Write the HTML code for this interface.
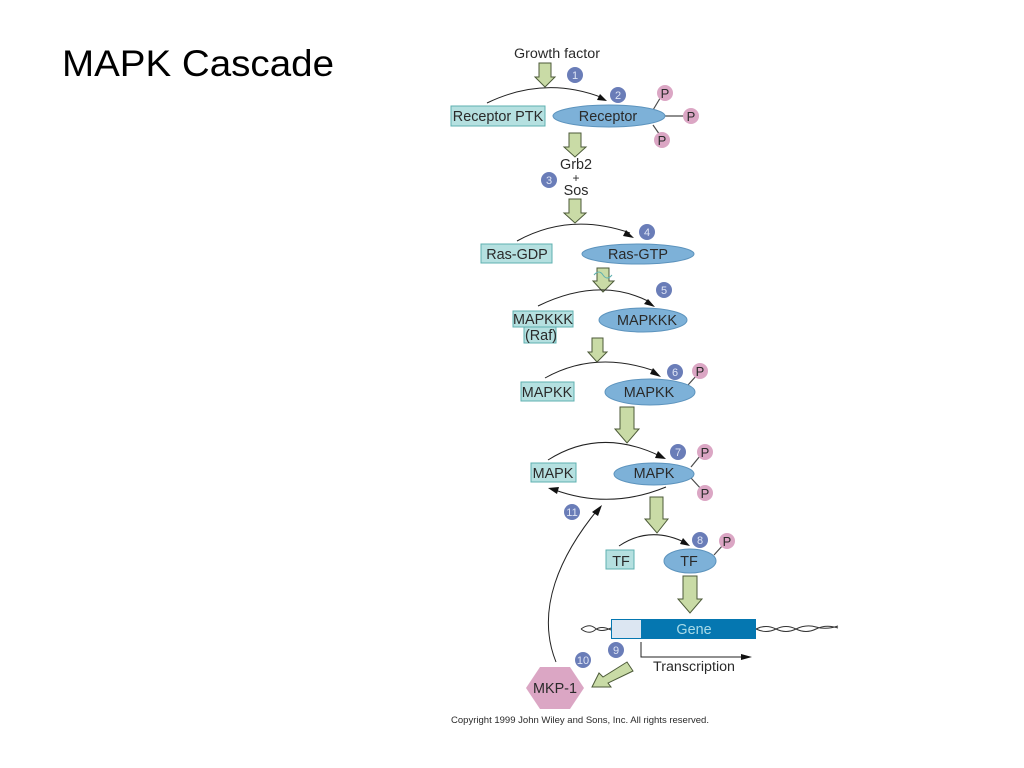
<!DOCTYPE html>
<html><head><meta charset="utf-8"><style>
html,body{margin:0;padding:0;background:#fff}
svg{display:block}
text{font-family:"Liberation Sans",sans-serif;fill:#2a2a2a;text-anchor:middle}
.t{fill:#b5e0e0;stroke:#5fb0b0;stroke-width:1}
.e{fill:#7db1d8;stroke:#5c93bd;stroke-width:1}
.a{fill:#c9dba6;stroke:#4c5a38;stroke-width:1}
.c{fill:none;stroke:#222;stroke-width:1}
.h{fill:#111}
.n{fill:#6a7db8}
.nt{fill:#dfe5f5;font-size:11px}
.p{fill:#dba6c4}
.l{stroke:#4a4a4a;stroke-width:1.2}
.s{font-size:14.4px}
.pt{font-size:13px}
#d{filter:blur(.35px)}
</style></head><body>
<svg width="1024" height="768" viewBox="0 0 1024 768" xmlns="http://www.w3.org/2000/svg">
<rect width="1024" height="768" fill="#fff"/>
<text x="62" y="76" style="text-anchor:start;fill:#000;font-size:37px" textLength="272" lengthAdjust="spacingAndGlyphs">MAPK Cascade</text>
<g id="d">
<text x="557" y="58" style="font-size:13.5px" textLength="86" lengthAdjust="spacingAndGlyphs">Growth factor</text>
<polygon class="a" points="539,63 551,63 551,77 555,77 545,87 535,77 539,77"/>
<circle class="n" cx="575" cy="75" r="8"/><text x="575" y="79" class="nt">1</text>
<path class="c" d="M487,103 Q545,75 603,98"/><polygon class="h" points="607,101 597,100 600,94"/>
<rect class="t" x="451" y="106" width="94" height="20"/><text x="498" y="121" class="s">Receptor PTK</text>
<circle class="n" cx="618" cy="95" r="8"/><text x="618" y="99" class="nt">2</text>
<line class="l" x1="653" y1="110" x2="662" y2="95"/><line class="l" x1="665" y1="116" x2="690" y2="116"/><line class="l" x1="653" y1="125" x2="662" y2="138"/>
<ellipse class="e" cx="609" cy="116" rx="56" ry="11"/><text x="608" y="121" class="s">Receptor</text>
<circle class="p" cx="665" cy="93" r="8"/><text x="665" y="98" class="pt">P</text>
<circle class="p" cx="691" cy="116" r="8"/><text x="691" y="121" class="pt">P</text>
<circle class="p" cx="662" cy="140" r="8"/><text x="662" y="145" class="pt">P</text>

<polygon class="a" points="569,133 581,133 581,147 586,147 575,157 564,147 569,147"/>
<text x="576" y="169" class="s">Grb2</text><text x="576" y="182" style="font-size:12px">+</text><text x="576" y="195" class="s">Sos</text>
<circle class="n" cx="549" cy="180" r="8"/><text x="549" y="184" class="nt">3</text>
<polygon class="a" points="569,199 581,199 581,213 586,213 575,223 564,213 569,213"/>

<path class="c" d="M517,241 Q570,212 630,233"/><polygon class="h" points="634,238 623,236 626,230"/>
<rect class="t" x="481" y="244" width="71" height="19"/><text x="517" y="259" class="s">Ras-GDP</text>
<circle class="n" cx="647" cy="232" r="8"/><text x="647" y="236" class="nt">4</text>
<ellipse class="e" cx="638" cy="254" rx="56" ry="10"/><text x="638" y="259" class="s">Ras-GTP</text>

<polygon class="a" points="597,268 609,268 609,281 614,281 603,292 593,281 597,281"/>
<path d="M594,275 q5,-6 9,0 t9,0" fill="none" stroke="#5fb0b0" stroke-width="1"/>
<circle class="n" cx="664" cy="290" r="8"/><text x="664" y="294" class="nt">5</text>
<path class="c" d="M538,306 Q600,276 650,302"/><polygon class="h" points="655,307 644,304 648,299"/>
<rect class="t" x="513" y="311" width="60" height="16"/><rect class="t" x="524" y="327" width="32" height="16"/>
<text x="543" y="324" class="s">MAPKKK</text><text x="541" y="340" class="s">(Raf)</text>
<ellipse class="e" cx="643" cy="320" rx="44" ry="12"/><text x="647" y="325" class="s">MAPKKK</text>

<polygon class="a" points="592,338 603,338 603,352 607,352 597,362 588,352 592,352"/>
<path class="c" d="M545,378 Q595,350 655,371"/><polygon class="h" points="661,377 650,374 653,368"/>
<rect class="t" x="521" y="382" width="53" height="19"/><text x="547" y="397" class="s">MAPKK</text>
<circle class="n" cx="675" cy="372" r="8"/><text x="675" y="376" class="nt">6</text>
<line class="l" x1="688" y1="385" x2="697" y2="375"/>
<ellipse class="e" cx="650" cy="392" rx="45" ry="13"/><text x="649" y="397" class="s">MAPKK</text>
<circle class="p" cx="700" cy="371" r="8"/><text x="700" y="376" class="pt">P</text>

<polygon class="a" points="620,407 634,407 634,429 639,429 627,443 615,429 620,429"/>
<path class="c" d="M548,460 Q600,427 660,456"/><polygon class="h" points="666,459 655,458 658,451"/>
<rect class="t" x="531" y="463" width="45" height="19"/><text x="553" y="478" class="s">MAPK</text>
<circle class="n" cx="678" cy="452" r="8"/><text x="678" y="456" class="nt">7</text>
<line class="l" x1="691" y1="467" x2="700" y2="456"/><line class="l" x1="691" y1="478" x2="702" y2="490"/>
<ellipse class="e" cx="654" cy="474" rx="40" ry="11"/><text x="654" y="478" class="s">MAPK</text>
<circle class="p" cx="705" cy="452" r="8"/><text x="705" y="457" class="pt">P</text>
<circle class="p" cx="705" cy="493" r="8"/><text x="705" y="498" class="pt">P</text>
<path class="c" d="M666,487 Q610,510 555,490"/><polygon class="h" points="548,488 559,487 557,494"/>
<circle class="n" cx="572" cy="512" r="8"/><text x="572" y="516" class="nt">11</text>

<polygon class="a" points="650,497 663,497 663,519 668,519 657,533 645,519 650,519"/>
<path class="c" d="M619,546 Q650,525 686,543"/><polygon class="h" points="690,546 680,544 683,538"/>
<rect class="t" x="606" y="550" width="28" height="19"/><text x="621" y="566" class="s">TF</text>
<circle class="n" cx="700" cy="540" r="8"/><text x="700" y="544" class="nt">8</text>
<line class="l" x1="714" y1="555" x2="723" y2="545"/>
<ellipse class="e" cx="690" cy="561" rx="26" ry="12"/><text x="689" y="566" class="s">TF</text>
<circle class="p" cx="727" cy="541" r="8"/><text x="727" y="546" class="pt">P</text>

<polygon class="a" points="683,576 697,576 697,599 702,599 690,613 678,599 683,599"/>
<path d="M581,629 q8,-6 14,-1 t16,0 M581,629 q8,6 14,1 t16,0" fill="none" stroke="#333" stroke-width="1"/>
<path d="M756,629 q10,-5 20,0 t20,0 t20,-2 t22,-1 M756,629 q10,5 20,0 t20,0 t20,0 t22,-1" fill="none" stroke="#333" stroke-width="1"/>
<rect x="611" y="619" width="145" height="20" fill="#0577b1"/>
<rect x="612" y="620" width="29" height="18" fill="#dce6f2"/>
<text x="694" y="634" style="fill:#a8dbe8;font-size:14.4px">Gene</text>
<path class="c" d="M641,642 V657 H746"/><polygon class="h" points="752,657 741,654 741,660"/>
<text x="694" y="671" style="font-size:13.5px" textLength="82" lengthAdjust="spacingAndGlyphs">Transcription</text>
<circle class="n" cx="616" cy="650" r="8"/><text x="616" y="654" class="nt">9</text>
<circle class="n" cx="583" cy="660" r="8"/><text x="583" y="664" class="nt">10</text>

<path class="c" d="M556,662 C535,610 560,555 599,508"/><polygon class="h" points="602,505 598,516 592,512"/>
<polygon class="p" points="526,688 540,667 570,667 584,688 570,709 540,709"/>
<text x="555" y="693" class="s">MKP-1</text>
<polygon class="a" points="592,687 599,673 603,677 627,662 633,671 608,683 611,687"/>
<text x="580" y="723" style="font-size:9.2px" textLength="258" lengthAdjust="spacingAndGlyphs">Copyright 1999 John Wiley and Sons, Inc. All rights reserved.</text>
</g>
</svg>
</body></html>
